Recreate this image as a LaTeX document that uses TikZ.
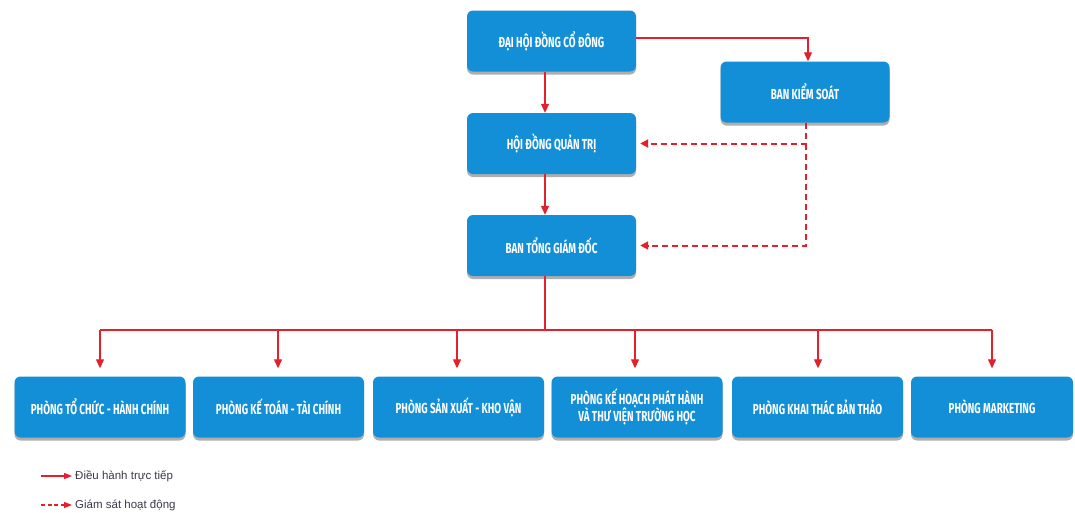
\documentclass[tikz,border=0pt]{standalone}
\usepackage{fontspec}
\setmainfont{Liberation Sans}
\newfontfamily\boxfont[FakeStretch=0.68]{Fira Sans}
\usetikzlibrary{shadows,arrows.meta}
\definecolor{boxblue}{HTML}{138FD8}
\definecolor{arrred}{HTML}{E3202B}
\definecolor{legtext}{HTML}{3A3A4A}
\begin{document}
\begin{tikzpicture}[x=1pt,y=-1pt,
  orgbox/.style={fill=boxblue, rounded corners=6pt, minimum height=61pt, text=white,
    font=\boxfont\bfseries\fontsize{14.5}{16}\selectfont, align=center, inner sep=2pt,
    drop shadow={shadow xshift=0pt, shadow yshift=-3pt, opacity=0.45, fill=black!70}},
  topbox/.style={orgbox, minimum width=169pt},
  depbox/.style={orgbox, minimum width=171pt},
  solidarr/.style={draw=arrred, line width=1.2pt, -{Triangle[length=9pt,width=8pt]}},
  dasharr/.style={draw=arrred, line width=2pt, dash pattern=on 6pt off 4pt, -{Triangle[length=8pt,width=8pt]}},
  legendtext/.style={anchor=west, text=legtext, font=\fontsize{11.5}{13}\selectfont, inner sep=0pt}
]
\useasboundingbox (0,0) rectangle (1075,512);
\fill[white] (0,0) rectangle (1075,512);

\node[topbox] (dh) at (551.5,41) {ĐẠI HỘI ĐỒNG CỔ ĐÔNG};
\node[topbox] (bks) at (805,92) {BAN KIỂM SOÁT};
\node[topbox] (hd) at (551.5,143.5) {HỘI ĐỒNG QUẢN TRỊ};
\node[topbox] (btgd) at (551.5,245.5) {BAN TỔNG GIÁM ĐỐC};

\node[depbox] (p1) at (100,407) {PHÒNG TỔ CHỨC - HÀNH CHÍNH};
\node[depbox] (p2) at (278.5,407) {PHÒNG KẾ TOÁN - TÀI CHÍNH};
\node[depbox] (p3) at (458.5,407) {PHÒNG SẢN XUẤT - KHO VẬN};
\node[depbox] (p4) at (637,407) {PHÒNG KẾ HOẠCH PHÁT HÀNH\\[-1pt]VÀ THƯ VIỆN TRƯỜNG HỌC};
\node[depbox] (p5) at (817.5,407) {PHÒNG KHAI THÁC BẢN THẢO};
\node[depbox, minimum width=162pt] (p6) at (992,407) {PHÒNG MARKETING};

\coordinate (bus) at (545,330);
\coordinate (bksjoin) at (806,143.5);

\draw[solidarr] (dh.east |- 0,38) -| (bks.north -| 808,0);
\draw[solidarr] (dh.south -| 545,0) -- (hd.north -| 545,0);
\draw[solidarr] (hd.south -| 545,0) -- (btgd.north -| 545,0);
\draw[dasharr] (bks.south -| 806,0) |- ([xshift=4pt]hd.east);
\draw[dasharr] (bksjoin) |- ([xshift=4pt]btgd.east);

\draw[draw=arrred, line width=1.2pt] (btgd.south -| 545,0) -- (bus);
\draw[draw=arrred, line width=1.2pt] (100,330) -- (992,330);
\foreach \n/\x in {p1/100,p2/278,p3/457,p4/635,p5/818,p6/992}{
  \draw[solidarr] (\x,330) -- ([yshift=8pt]\n.north -| \x,0);
}

\coordinate (l1a) at (41,476);
\coordinate (l1b) at (72,476);
\coordinate (l2a) at (41,505);
\coordinate (l2b) at (72,505);
\draw[solidarr, -{Triangle[length=8pt,width=6pt]}] (l1a) -- (l1b);
\draw[dasharr, line width=1.3pt, dash pattern=on 4pt off 2.5pt, -{Triangle[length=8pt,width=6pt]}] (l2a) -- (l2b);
\node[legendtext] (lt1) at (75,476) {Điều hành trực tiếp};
\node[legendtext] (lt2) at (75,505) {Giám sát hoạt động};
\end{tikzpicture}
\end{document}
